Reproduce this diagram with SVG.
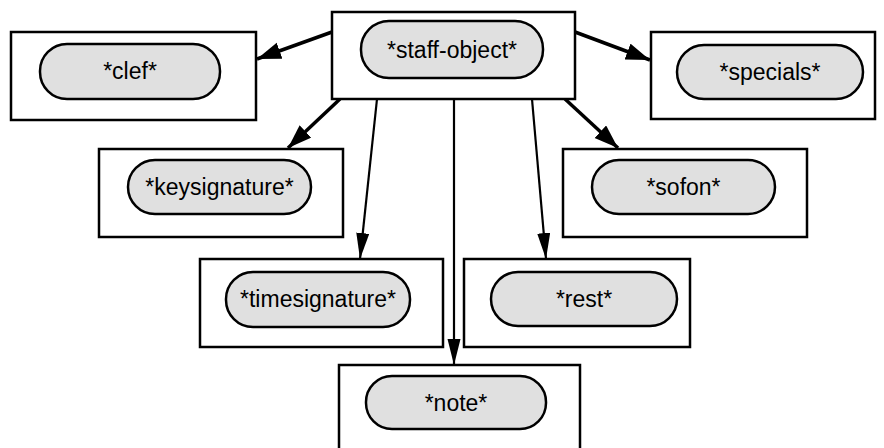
<svg xmlns="http://www.w3.org/2000/svg" width="884" height="448" viewBox="0 0 884 448">
<style>
.box{fill:#fff;stroke:#000;stroke-width:2.5}
.pill{fill:#e0e0e0;stroke:#000;stroke-width:2.5}
.lbl{font-family:"Liberation Sans",Arial,sans-serif;font-size:23px;text-anchor:middle;fill:#000}
.thick{stroke:#000;stroke-width:3.5;fill:none}
.thin{stroke:#000;stroke-width:2.2;fill:none}
</style>
<defs>
<marker id="ahT" markerUnits="userSpaceOnUse" markerWidth="24" markerHeight="18" refX="24" refY="8.5" orient="auto"><path d="M0,0 L24,8.5 L0,17 z" fill="#000"/></marker>
<marker id="ahN" markerUnits="userSpaceOnUse" markerWidth="26" markerHeight="14" refX="26" refY="6.5" orient="auto"><path d="M0,0 L26,6.5 L0,13 z" fill="#000"/></marker>
</defs>
<rect width="884" height="448" fill="#fff"/>
<g id="connectors">
<path class="thick" d="M332,32 L257,59" marker-end="url(#ahT)"/>
<path class="thick" d="M575,32 L650,60" marker-end="url(#ahT)"/>
<path class="thick" d="M340,99 L288,148" marker-end="url(#ahT)"/>
<path class="thick" d="M565,99 L618,148" marker-end="url(#ahT)"/>
<path class="thin" d="M377,99 L360,259" marker-end="url(#ahN)"/>
<path class="thin" d="M532,99 L546,259" marker-end="url(#ahN)"/>
<path class="thin" d="M454,99 L454,365" marker-end="url(#ahN)"/>
</g>
<g id="staff-object">
<rect class="box" x="332" y="12" width="243" height="87"/>
<rect class="pill" x="361" y="21" width="182" height="57" rx="28" ry="28"/>
<text class="lbl" x="452" y="58">*staff-object*</text>
</g>
<g id="clef">
<rect class="box" x="11" y="32" width="245" height="88"/>
<rect class="pill" x="40" y="44" width="180" height="55" rx="27" ry="27"/>
<text class="lbl" x="130" y="79">*clef*</text>
</g>
<g id="specials">
<rect class="box" x="651" y="32" width="224" height="87"/>
<rect class="pill" x="677" y="45" width="186" height="54" rx="27" ry="27"/>
<text class="lbl" x="770" y="80">*specials*</text>
</g>
<g id="keysignature">
<rect class="box" x="99" y="149" width="244" height="88"/>
<rect class="pill" x="128" y="160" width="183" height="54" rx="27" ry="27"/>
<text class="lbl" x="219.5" y="195">*keysignature*</text>
</g>
<g id="sofon">
<rect class="box" x="563" y="149" width="244" height="88"/>
<rect class="pill" x="592" y="160" width="183" height="54" rx="27" ry="27"/>
<text class="lbl" x="683.5" y="195">*sofon*</text>
</g>
<g id="timesignature">
<rect class="box" x="200" y="259" width="243" height="88"/>
<rect class="pill" x="226" y="272" width="184" height="55" rx="27" ry="27"/>
<text class="lbl" x="318" y="307">*timesignature*</text>
</g>
<g id="rest">
<rect class="box" x="464" y="259" width="226" height="88"/>
<rect class="pill" x="491" y="272" width="186" height="54" rx="27" ry="27"/>
<text class="lbl" x="584" y="307">*rest*</text>
</g>
<g id="note">
<rect class="box" x="339" y="365" width="241" height="90"/>
<rect class="pill" x="366" y="376" width="180" height="53" rx="26" ry="26"/>
<text class="lbl" x="456" y="411">*note*</text>
</g>
</svg>
